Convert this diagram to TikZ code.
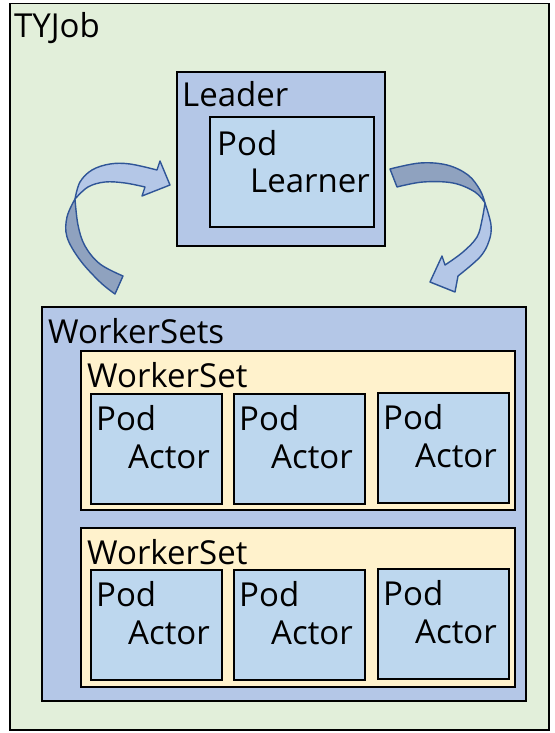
\documentclass[tikz,border=0pt]{standalone}
\usepackage{fontspec}
\setmainfont{Open Sans}
\definecolor{bggreen}{HTML}{E2EFDA}
\definecolor{leaderblue}{HTML}{B4C7E7}
\definecolor{podblue}{HTML}{BDD7EE}
\definecolor{wsyellow}{HTML}{FFF2CC}
\definecolor{arrlight}{HTML}{B4C7E7}
\definecolor{arrdark}{HTML}{8FA2BF}
\definecolor{arrline}{HTML}{2F5597}
\begin{document}
\begin{tikzpicture}[x=1pt,y=-1pt,
  box/.style={draw=black,line width=1.8pt,anchor=north west,inner sep=0pt},
  lbl/.style={anchor=base west,inner sep=0pt,font=\fontsize{33}{38}\selectfont},
  podbox/.style={box,fill=podblue,minimum width=131pt,minimum height=110pt},
  wsbox/.style={box,fill=wsyellow,minimum width=434pt,minimum height=159pt},
  arrowlight/.style={fill=arrlight,draw=arrline,line width=1.4pt,line join=round},
  arrowdark/.style={fill=arrdark,draw=arrline,line width=1.4pt,line join=round}]
\useasboundingbox (0,0) rectangle (554,733);
% outer job
\node[box,fill=bggreen,line width=1.5pt,minimum width=539pt,minimum height=726pt] (job) at (9,3) {};
\node[lbl] (jobl) at ([shift={(5,35)}]job.north west) {TYJob};
% leader
\node[box,fill=leaderblue,minimum width=208pt,minimum height=174pt] (leader) at (176,71) {};
\node[lbl] (leaderl) at ([shift={(6,36)}]leader.north west) {Leader};
\node[box,fill=podblue,minimum width=164pt,minimum height=110pt] (lpod) at (209,116) {};
\node[lbl] (lpodl) at ([shift={(8,39)}]lpod.north west) {Pod};
\node[lbl] (lpodr) at ([shift={(41,76)}]lpod.north west) {Learner};
% worker sets
\node[box,fill=leaderblue,minimum width=484pt,minimum height=394pt] (wss) at (41,306) {};
\node[lbl] (wssl) at ([shift={(7,37)}]wss.north west) {WorkerSets};
\node[wsbox] (ws1) at (80,350) {};
\node[lbl] (ws1l) at ([shift={(7,37)}]ws1.north west) {WorkerSet};
\node[wsbox] (ws2) at (80,527) {};
\node[lbl] (ws2l) at ([shift={(7,37)}]ws2.north west) {WorkerSet};
\foreach \n/\x/\y in {a/90/393,b/233/393,c/377/392,d/90/569,e/233/569,f/377/568}{
  \node[podbox] (p\n) at (\x,\y) {};
  \node[lbl] (p\n l) at ([shift={(6,37)}]p\n.north west) {Pod};
  \node[lbl] (p\n r) at ([shift={(38,75)}]p\n.north west) {Actor};
}
% left curved arrow
\filldraw[arrowdark] plot[smooth,tension=0.6] coordinates {(75,199) (67,217) (67,237) (80,260) (100,282) (115,294)}
  -- (123,276) -- plot[smooth,tension=0.6] coordinates {(123,276) (100,264) (85,246) (78,225) (75,199)} -- cycle;
\filldraw[arrowlight] plot[smooth,tension=0.6] coordinates {(75,199) (80,182) (92,170) (110,164) (130,164) (157,170)}
  -- (160,161) -- (170,185) -- (142,196) -- (145,187)
  -- plot[smooth,tension=0.6] coordinates {(145,187) (125,183) (105,182) (88,187) (75,199)} -- cycle;
% right curved arrow
\filldraw[arrowdark] plot[smooth,tension=0.6] coordinates {(390,169) (420,163) (447,165) (468,175) (480,190) (485,203)}
  -- plot[smooth,tension=0.6] coordinates {(485,203) (475,192) (453,183) (423,182) (397,187)} -- cycle;
\filldraw[arrowlight] plot[smooth,tension=0.6] coordinates {(485,203) (491,225) (489,241) (480,257) (458,276)}
  -- (455,292) -- (430,282) -- (442,256) -- (445,265)
  -- plot[smooth,tension=0.6] coordinates {(445,265) (463,252) (477,237) (482,220) (485,203)} -- cycle;
\end{tikzpicture}
\end{document}
